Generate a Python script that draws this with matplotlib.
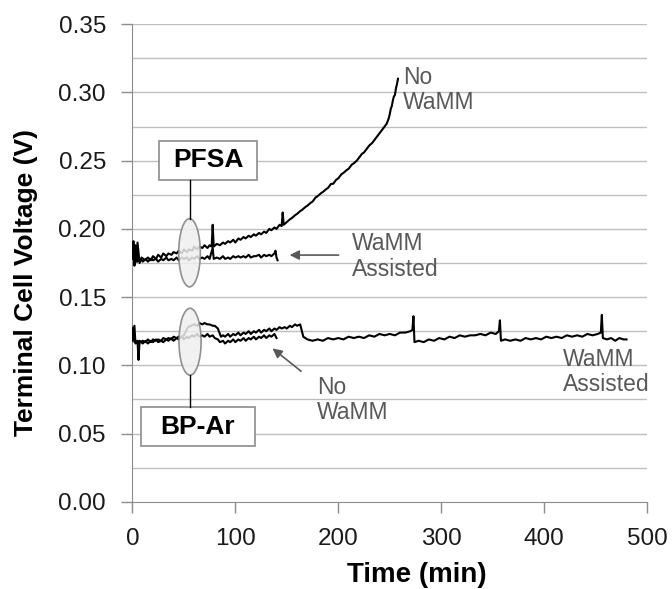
import matplotlib
matplotlib.use("Agg")
import matplotlib.pyplot as plt
from matplotlib.patches import Ellipse, Rectangle

plt.rcParams['font.family'] = ['Liberation Sans', 'DejaVu Sans']

# PFSA, no WaMM (min, V)
pfsa_no_t = [0, 1, 2, 3, 4, 5, 7, 9, 12, 15, 18, 20, 23, 25, 28, 30, 33, 35, 38, 40,
             43, 45, 48, 50, 53, 55, 58, 60, 63, 65, 68, 70, 73, 75, 77, 78, 79, 82, 85,
             88, 90, 93, 95, 98, 100, 103, 105, 108, 110, 113, 115, 118, 120, 123, 125,
             128, 130, 133, 135, 138, 140, 143, 145, 146, 147, 150, 153, 155, 158, 160,
             163, 165, 168, 170, 173, 175, 178, 180, 183, 185, 188, 190, 193, 195, 198,
             200, 203, 205, 208, 210, 213, 215, 218, 220, 223, 225, 228, 230, 233, 235,
             238, 240, 243, 245, 247, 248, 249, 250, 251, 252, 253, 254, 255, 256, 257, 258]
pfsa_no_v = [0.180, 0.191, 0.174, 0.188, 0.176, 0.190, 0.175, 0.179, 0.177, 0.179, 0.177,
             0.180, 0.178, 0.181, 0.179, 0.182, 0.180, 0.182, 0.181, 0.183, 0.182, 0.184,
             0.182, 0.185, 0.183, 0.185, 0.184, 0.187, 0.185, 0.187, 0.186, 0.188, 0.186,
             0.188, 0.187, 0.203, 0.187, 0.189, 0.188, 0.190, 0.189, 0.191, 0.190, 0.192,
             0.190, 0.193, 0.192, 0.194, 0.193, 0.195, 0.194, 0.196, 0.195, 0.197, 0.196,
             0.198, 0.197, 0.200, 0.199, 0.201, 0.200, 0.203, 0.202, 0.212, 0.203, 0.205,
             0.207, 0.208, 0.210, 0.211, 0.213, 0.214, 0.216, 0.217, 0.219, 0.220, 0.223,
             0.224, 0.226, 0.227, 0.229, 0.230, 0.233, 0.233, 0.236, 0.237, 0.240, 0.241,
             0.243, 0.244, 0.247, 0.248, 0.250, 0.252, 0.255, 0.256, 0.259, 0.261, 0.263,
             0.265, 0.268, 0.270, 0.273, 0.275, 0.277, 0.279, 0.281, 0.284, 0.288, 0.290,
             0.294, 0.297, 0.298, 0.303, 0.306, 0.310]

# PFSA, WaMM assisted
pfsa_wamm_t = [0, 1, 2, 3, 5, 8, 10, 13, 15, 18, 20, 23, 25, 28, 30, 33, 35, 38, 40, 43,
               45, 48, 50, 53, 55, 58, 60, 63, 65, 68, 70, 73, 75, 78, 79, 82, 85, 88, 90,
               93, 95, 98, 100, 103, 105, 108, 110, 113, 115, 118, 120, 123, 125, 128,
               130, 133, 135, 138, 139, 140, 141]
pfsa_wamm_v = [0.178, 0.186, 0.173, 0.179, 0.176, 0.178, 0.176, 0.178, 0.176, 0.178,
               0.177, 0.178, 0.176, 0.178, 0.177, 0.179, 0.177, 0.178, 0.177, 0.179,
               0.177, 0.179, 0.178, 0.179, 0.177, 0.179, 0.178, 0.180, 0.178, 0.179,
               0.178, 0.180, 0.178, 0.186, 0.178, 0.179, 0.178, 0.180, 0.178, 0.179,
               0.178, 0.180, 0.179, 0.180, 0.179, 0.180, 0.179, 0.181, 0.179, 0.180,
               0.180, 0.181, 0.179, 0.181, 0.180, 0.181, 0.180, 0.182, 0.184, 0.179, 0.177]

# BP-Ar, no WaMM
bpar_no_t = [0, 2, 3, 5, 6, 7, 10, 13, 15, 18, 20, 23, 25, 28, 30, 33, 35, 38, 40, 43,
             45, 48, 50, 53, 55, 58, 60, 63, 65, 68, 70, 73, 75, 78, 80, 83, 85, 88, 90,
             93, 95, 98, 100, 103, 105, 108, 110, 113, 115, 118, 120, 123, 125, 128,
             130, 133, 135, 138, 140]
bpar_no_v = [0.118, 0.129, 0.116, 0.117, 0.104, 0.118, 0.116, 0.118, 0.116, 0.118,
             0.117, 0.119, 0.117, 0.118, 0.117, 0.119, 0.118, 0.120, 0.118, 0.120,
             0.119, 0.121, 0.119, 0.121, 0.120, 0.122, 0.121, 0.123, 0.121, 0.122,
             0.121, 0.123, 0.121, 0.122, 0.120, 0.119, 0.117, 0.118, 0.116, 0.118,
             0.117, 0.119, 0.117, 0.119, 0.118, 0.120, 0.118, 0.120, 0.119, 0.121,
             0.119, 0.121, 0.120, 0.122, 0.120, 0.122, 0.121, 0.123, 0.120]

# BP-Ar, WaMM assisted
bpar_wamm_t = [0, 1, 2, 5, 8, 10, 13, 15, 18, 20, 23, 25, 28, 30, 33, 35, 38, 40, 43, 45,
               48, 50, 52, 54, 57, 60, 63, 65, 68, 70, 73, 75, 78, 80, 83, 86, 88, 90, 93,
               95, 98, 100, 103, 105, 108, 110, 113, 115, 118, 120, 123, 125, 128, 130,
               133, 135, 138, 140, 143, 145, 148, 150, 153, 155, 158, 160, 163, 164, 166,
               170, 175, 180, 185, 190, 195, 200, 205, 210, 215, 220, 225, 230, 235, 240,
               245, 250, 255, 260, 265, 270, 272, 273, 274, 278, 283, 288, 293, 298, 303,
               308, 313, 318, 323, 328, 333, 338, 343, 348, 353, 356, 357, 358, 362, 367,
               372, 377, 382, 387, 392, 397, 402, 407, 412, 417, 422, 427, 432, 437, 442,
               447, 452, 455, 456, 457, 461, 465, 469, 473, 477, 480]
bpar_wamm_v = [0.119, 0.128, 0.117, 0.118, 0.117, 0.118, 0.117, 0.119, 0.117, 0.119,
               0.118, 0.119, 0.118, 0.120, 0.119, 0.120, 0.119, 0.121, 0.120, 0.121,
               0.121, 0.122, 0.125, 0.128, 0.129, 0.130, 0.129, 0.131, 0.130, 0.131,
               0.130, 0.130, 0.129, 0.129, 0.127, 0.121, 0.122, 0.121, 0.123, 0.121,
               0.123, 0.122, 0.124, 0.122, 0.124, 0.123, 0.125, 0.123, 0.125, 0.124,
               0.126, 0.124, 0.126, 0.125, 0.127, 0.125, 0.127, 0.126, 0.128, 0.127,
               0.128, 0.127, 0.129, 0.128, 0.130, 0.129, 0.130, 0.127, 0.121, 0.119,
               0.118, 0.119, 0.118, 0.120, 0.119, 0.120, 0.119, 0.121, 0.120, 0.121,
               0.120, 0.122, 0.121, 0.123, 0.122, 0.123, 0.122, 0.124, 0.124, 0.125,
               0.126, 0.136, 0.117, 0.118, 0.117, 0.119, 0.118, 0.120, 0.119, 0.121,
               0.120, 0.122, 0.121, 0.122, 0.122, 0.123, 0.122, 0.124, 0.123, 0.125,
               0.133, 0.118, 0.119, 0.118, 0.119, 0.118, 0.120, 0.119, 0.120, 0.119,
               0.121, 0.120, 0.121, 0.120, 0.122, 0.121, 0.122, 0.121, 0.123, 0.122,
               0.123, 0.124, 0.137, 0.120, 0.119, 0.120, 0.118, 0.120, 0.119, 0.119]

grey = '#595959'
grid_c = '#bfbfbf'


def main():
    fig = plt.figure(figsize=(6.72, 5.89), dpi=100)
    ax = fig.add_axes([0.197, 0.148, 0.766, 0.811])

    for t, v in [(pfsa_no_t, pfsa_no_v), (pfsa_wamm_t, pfsa_wamm_v),
                 (bpar_no_t, bpar_no_v), (bpar_wamm_t, bpar_wamm_v)]:
        ax.plot(t, v, color='black', linewidth=1.5, zorder=3)

    ax.set_xlim(0, 500)
    ax.set_ylim(0, 0.35)
    ax.set_xticks(range(0, 501, 100))
    ax.set_yticks([i * 0.05 for i in range(8)])
    ax.set_yticklabels(['%.2f' % (i * 0.05) for i in range(8)])
    for i in range(1, 15):
        ax.axhline(i * 0.025, color=grid_c, linewidth=1.0, zorder=1)

    for s in ['top', 'right']:
        ax.spines[s].set_visible(False)
    for s in ['left', 'bottom']:
        ax.spines[s].set_color('#8c8c8c')
    ax.tick_params(axis='both', colors='#8c8c8c', length=8, width=1.0,
                   labelsize=17.5, labelcolor='#1a1a1a', pad=11)

    ax.set_xlabel('Time (min)', fontsize=20, fontweight='bold')
    ax.xaxis.set_label_coords(0.553, -0.153)
    ax.xaxis.label.set_verticalalignment('center')
    ax.set_ylabel('Terminal Cell Voltage (V)', fontsize=19, fontweight='bold')
    ax.yaxis.set_label_coords(-0.206, 0.46)
    ax.yaxis.label.set_verticalalignment('center')

    # ovals marking the two groups
    ax.add_patch(Ellipse((55.5, 0.1825), 21, 0.050, facecolor='#efefef',
                         edgecolor='#7f7f7f', linewidth=1.2, alpha=0.85, zorder=4))
    ax.add_patch(Ellipse((56, 0.1173), 21.5, 0.049, facecolor='#efefef',
                         edgecolor='#7f7f7f', linewidth=1.2, alpha=0.85, zorder=4))

    # label boxes
    ax.add_patch(Rectangle((26.2, 0.2357), 95, 0.0288, facecolor='white',
                           edgecolor='#8c8c8c', linewidth=1.2, zorder=5))
    ax.text(73.6, 0.2501, 'PFSA', fontsize=19, fontweight='bold',
            ha='center', va='center', zorder=6)
    ax.plot([55.5, 55.5], [0.2357, 0.2075], color='black', linewidth=1.0, zorder=5)

    ax.add_patch(Rectangle((8.2, 0.0406), 110.6, 0.0286, facecolor='white',
                           edgecolor='#8c8c8c', linewidth=1.2, zorder=5))
    ax.text(63.5, 0.0549, 'BP-Ar', fontsize=19, fontweight='bold',
            ha='center', va='center', zorder=6)
    ax.plot([56, 56], [0.0928, 0.0692], color='black', linewidth=1.0, zorder=5)

    # annotations
    ax.text(262.5, 0.302, 'No\nWaMM', fontsize=16.5, color=grey, ha='left',
            va='center', linespacing=1.1)
    ax.text(213, 0.1795, 'WaMM\nAssisted', fontsize=16.5, color=grey, ha='left',
            va='center', linespacing=1.15)
    ax.annotate('', xy=(150, 0.1808), xytext=(203, 0.1808),
                arrowprops=dict(arrowstyle='-|>', color=grey, lw=1.2,
                                mutation_scale=14))
    ax.text(179, 0.0745, 'No\nWaMM', fontsize=16.5, color=grey, ha='left',
            va='center', linespacing=1.1)
    ax.annotate('', xy=(134, 0.1137), xytext=(166, 0.0944),
                arrowprops=dict(arrowstyle='-|>', color=grey, lw=1.2,
                                mutation_scale=14))
    ax.text(418, 0.0952, 'WaMM\nAssisted', fontsize=16.5, color=grey, ha='left',
            va='center', linespacing=1.15)

    fig.savefig('out.png', dpi=100)


if __name__ == "__main__":
    main()
